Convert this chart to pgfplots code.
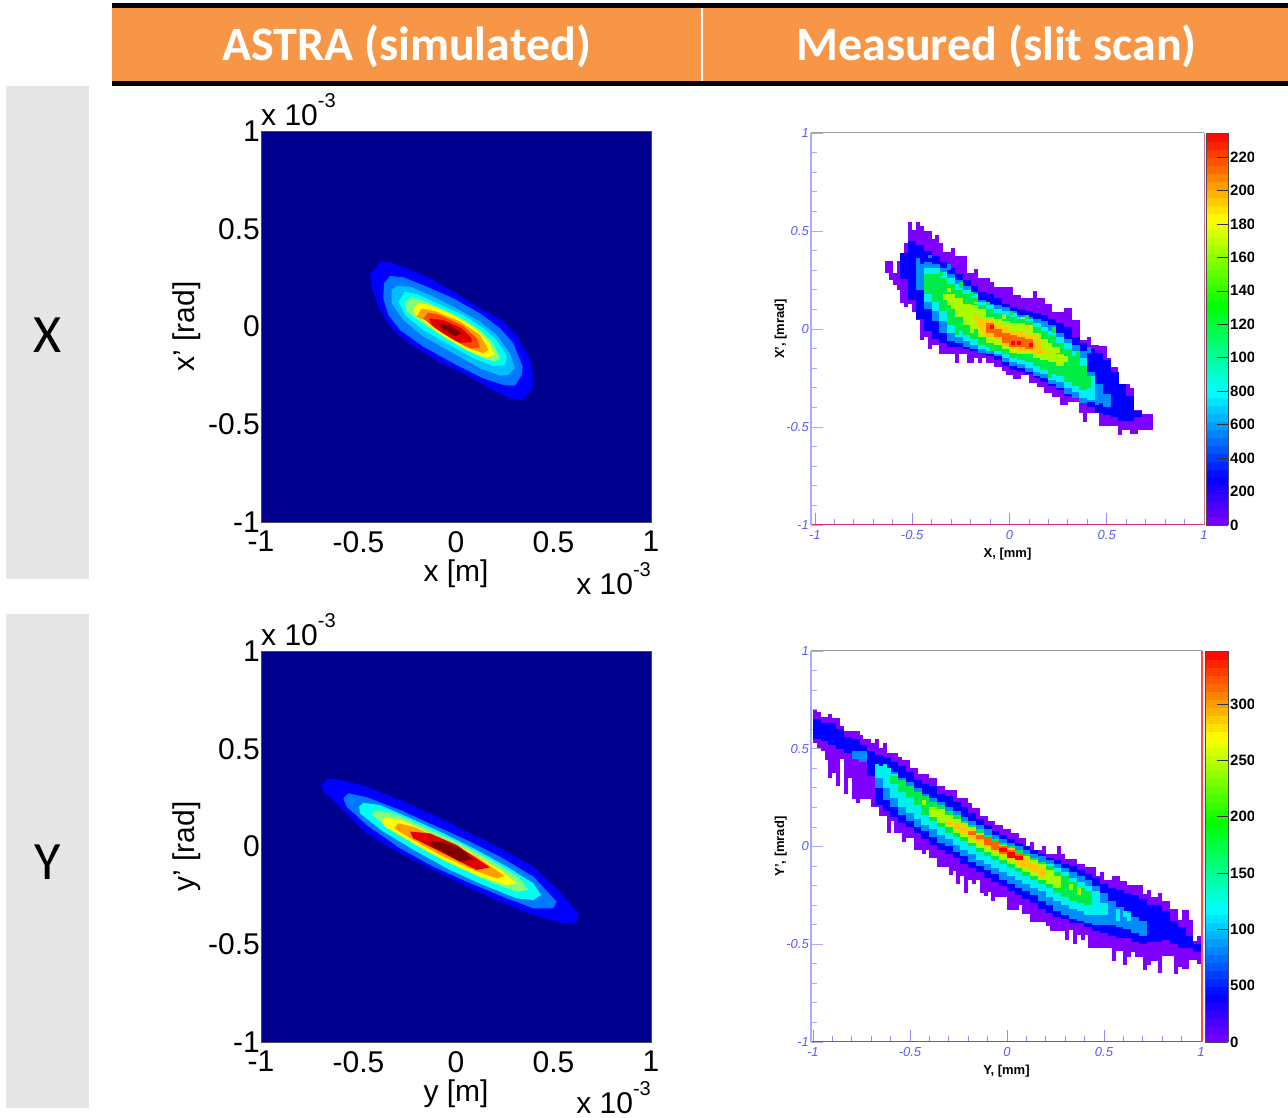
\documentclass[border=0pt]{standalone}
\usepackage{fontspec}
\setmainfont{Liberation Sans}
\newfontfamily\calib{Carlito}
\usepackage{pgfplots}
\usepackage{pgfplotstable}
\pgfplotsset{compat=1.18}
\definecolor{hdr}{RGB}{247,150,70}
\definecolor{gbox}{RGB}{230,230,230}
\definecolor{navy}{RGB}{0,0,143}
\definecolor{ja}{RGB}{0,0,255}
\definecolor{jb}{RGB}{0,120,255}
\definecolor{jc}{RGB}{0,190,255}
\definecolor{jd}{RGB}{0,255,240}
\definecolor{je}{RGB}{130,255,125}
\definecolor{jf}{RGB}{255,255,0}
\definecolor{jg}{RGB}{255,160,0}
\definecolor{jh}{RGB}{255,70,0}
\definecolor{ji}{RGB}{225,0,0}
\definecolor{jj}{RGB}{128,0,0}
\definecolor{ma}{RGB}{128,0,255}
\definecolor{mb}{RGB}{0,0,255}
\definecolor{mc}{RGB}{0,140,255}
\definecolor{md}{RGB}{0,240,240}
\definecolor{me}{RGB}{0,235,70}
\definecolor{mf}{RGB}{170,250,0}
\definecolor{mg}{RGB}{255,200,0}
\definecolor{mh}{RGB}{255,100,0}
\definecolor{mi}{RGB}{255,0,0}
\definecolor{tickblue}{RGB}{90,90,255}
\definecolor{yline}{RGB}{170,170,255}
\definecolor{xline}{RGB}{225,40,100}

% ---------- measured X, columns of the distribution: x, lower edge, upper edge
\pgfplotstableread[row sep=\\]{x lo hi\\
-0.63 0.288 0.349\\ -0.61 0.25 0.349\\ -0.59 0.225 0.288\\ -0.57 0.20 0.349\\ -0.55 0.131 0.327\\ -0.53 0.11 0.438\\
-0.51 0.13 0.545\\ -0.49 0.088 0.506\\ -0.47 0.046 0.545\\ -0.45 -0.056 0.523\\ -0.43 -0.039 0.502\\ -0.41 -0.104 0.502\\
-0.39 -0.082 0.458\\ -0.37 -0.082 0.478\\ -0.35 -0.128 0.438\\ -0.33 -0.128 0.395\\ -0.31 -0.128 0.395\\ -0.29 -0.128 0.415\\
-0.27 -0.172 0.37\\ -0.25 -0.128 0.37\\ -0.23 -0.128 0.37\\ -0.21 -0.172 0.288\\ -0.19 -0.172 0.288\\ -0.17 -0.15 0.305\\
-0.15 -0.172 0.259\\ -0.13 -0.15 0.259\\ -0.11 -0.172 0.259\\ -0.09 -0.172 0.242\\ -0.07 -0.193 0.216\\ -0.05 -0.193 0.216\\
-0.03 -0.213 0.216\\ -0.01 -0.235 0.216\\ 0.01 -0.235 0.216\\ 0.03 -0.256 0.174\\ 0.05 -0.256 0.174\\ 0.07 -0.235 0.157\\
0.09 -0.235 0.157\\ 0.11 -0.278 0.157\\ 0.13 -0.278 0.196\\ 0.15 -0.295 0.157\\ 0.17 -0.295 0.157\\ 0.19 -0.326 0.128\\
0.21 -0.326 0.128\\ 0.23 -0.346 0.088\\ 0.25 -0.346 0.088\\ 0.27 -0.389 0.088\\ 0.29 -0.389 0.109\\ 0.31 -0.372 0.109\\
0.33 -0.372 0.046\\ 0.35 -0.372 0.046\\ 0.37 -0.431 -0.056\\ 0.39 -0.474 -0.056\\ 0.41 -0.431 -0.043\\ 0.43 -0.431 -0.082\\
0.45 -0.431 -0.082\\ 0.47 -0.496 -0.087\\ 0.49 -0.496 -0.087\\ 0.51 -0.496 -0.15\\ 0.53 -0.496 -0.196\\ 0.55 -0.496 -0.196\\
0.57 -0.542 -0.281\\ 0.59 -0.516 -0.281\\ 0.61 -0.516 -0.281\\ 0.63 -0.537 -0.303\\ 0.65 -0.537 -0.414\\ 0.67 -0.516 -0.414\\
0.69 -0.516 -0.435\\ 0.71 -0.516 -0.435\\ 0.73 -0.516 -0.435\\
}\xa
\pgfplotstableread[row sep=\\]{x lo hi\\
-0.54 0.255 0.39\\ -0.50 0.15 0.45\\ -0.46 0.05 0.43\\ -0.42 -0.01 0.40\\ -0.38 -0.05 0.37\\ -0.34 -0.07 0.34\\ -0.30 -0.09 0.31\\
-0.26 -0.09 0.28\\ -0.22 -0.10 0.25\\ -0.18 -0.11 0.22\\ -0.14 -0.12 0.19\\ -0.10 -0.14 0.18\\ -0.06 -0.16 0.16\\ -0.02 -0.19 0.13\\
0.02 -0.21 0.11\\ 0.06 -0.22 0.10\\ 0.10 -0.23 0.09\\ 0.14 -0.25 0.08\\ 0.18 -0.27 0.07\\ 0.22 -0.29 0.05\\ 0.26 -0.31 0.03\\
0.30 -0.34 0.01\\ 0.34 -0.35 -0.04\\ 0.38 -0.37 -0.07\\ 0.42 -0.40 -0.10\\ 0.46 -0.43 -0.12\\ 0.50 -0.44 -0.16\\ 0.54 -0.45 -0.22\\
0.58 -0.47 -0.28\\ 0.62 -0.47 -0.34\\ 0.66 -0.45 -0.42\\
}\xb
\pgfplotstableread[row sep=\\]{x lo hi\\
-0.46 0.20 0.33\\ -0.42 0.10 0.34\\ -0.38 0.04 0.33\\ -0.34 -0.02 0.31\\ -0.30 -0.06 0.28\\ -0.26 -0.07 0.25\\ -0.22 -0.09 0.22\\
-0.18 -0.10 0.19\\ -0.14 -0.12 0.15\\ -0.10 -0.13 0.13\\ -0.06 -0.14 0.12\\ -0.02 -0.17 0.11\\ 0.02 -0.19 0.09\\ 0.06 -0.20 0.07\\
0.10 -0.22 0.06\\ 0.14 -0.24 0.05\\ 0.18 -0.25 0.04\\ 0.22 -0.28 0.02\\ 0.26 -0.30 -0.02\\ 0.30 -0.33 -0.05\\ 0.34 -0.35 -0.08\\
0.38 -0.38 -0.11\\ 0.42 -0.37 -0.22\\ 0.46 -0.38 -0.28\\ 0.50 -0.40 -0.33\\
}\xc
\pgfplotstableread[row sep=\\]{x lo hi\\
-0.42 0.14 0.31\\ -0.38 0.09 0.31\\ -0.34 0.04 0.29\\ -0.30 -0.02 0.26\\ -0.26 -0.04 0.23\\ -0.22 -0.06 0.20\\ -0.18 -0.08 0.18\\ -0.14 -0.10 0.14\\
-0.10 -0.11 0.12\\ -0.06 -0.13 0.10\\ -0.02 -0.15 0.09\\ 0.02 -0.17 0.08\\ 0.06 -0.18 0.06\\ 0.10 -0.20 0.05\\ 0.14 -0.22 0.03\\ 0.18 -0.23 0.01\\
0.22 -0.26 -0.01\\ 0.26 -0.27 -0.04\\ 0.30 -0.30 -0.07\\ 0.34 -0.32 -0.11\\ 0.38 -0.35 -0.15\\ 0.42 -0.36 -0.24\\
}\xcy
\pgfplotstableread[row sep=\\]{x lo hi\\
-0.42 0.18 0.28\\ -0.38 0.14 0.28\\ -0.34 0.09 0.26\\ -0.30 0.02 0.23\\ -0.26 -0.01 0.20\\ -0.22 -0.03 0.18\\ -0.18 -0.05 0.16\\
-0.14 -0.08 0.12\\ -0.10 -0.09 0.10\\ -0.06 -0.11 0.08\\ -0.02 -0.13 0.07\\ 0.02 -0.15 0.06\\ 0.06 -0.16 0.05\\ 0.10 -0.17 0.04\\
0.14 -0.19 0.01\\ 0.18 -0.21 -0.01\\ 0.22 -0.23 -0.03\\ 0.26 -0.24 -0.07\\ 0.30 -0.27 -0.10\\ 0.34 -0.29 -0.14\\ 0.38 -0.31 -0.19\\
}\xd
\pgfplotstableread[row sep=\\]{x lo hi\\
-0.30 0.12 0.18\\ -0.26 0.06 0.16\\ -0.22 0.02 0.13\\ -0.18 0.00 0.12\\ -0.14 -0.04 0.10\\ -0.10 -0.07 0.06\\ -0.06 -0.08 0.05\\
-0.02 -0.10 0.04\\ 0.02 -0.12 0.03\\ 0.06 -0.13 0.03\\ 0.10 -0.13 0.02\\ 0.14 -0.15 -0.02\\ 0.18 -0.16 -0.05\\ 0.22 -0.17 -0.09\\ 0.26 -0.19 -0.13\\
}\xe
\pgfplotstableread[row sep=\\]{x lo hi\\
-0.14 0.00 0.05\\ -0.10 -0.04 0.05\\ -0.06 -0.05 0.03\\ -0.02 -0.08 0.01\\ 0.02 -0.10 -0.01\\ 0.06 -0.11 -0.01\\ 0.10 -0.11 -0.03\\ 0.14 -0.13 -0.05\\
}\xf
\pgfplotstableread[row sep=\\]{x lo hi\\
-0.10 -0.02 0.03\\ -0.06 -0.04 0.00\\ -0.02 -0.07 -0.02\\ 0.02 -0.09 -0.03\\ 0.06 -0.09 -0.04\\ 0.10 -0.10 -0.05\\
}\xg
\pgfplotstableread[row sep=\\]{x lo hi\\
0.02 -0.08 -0.06\\ -0.09 0.00 0.02\\ 0.05 -0.08 -0.06\\ 0.11 -0.09 -0.07\\
}\xh
% isolated cells of the measured X map
\pgfplotstableread[row sep=\\]{x lo hi\\
-0.47 0.30 0.36\\ -0.41 0.36 0.38\\ -0.31 0.30 0.33\\ 0.45 -0.39 -0.30\\ 0.49 -0.40 -0.33\\ 0.41 -0.12 -0.09\\
}\xsc
\pgfplotstableread[row sep=\\]{x lo hi\\
-0.41 0.25 0.27\\ -0.35 0.27 0.29\\ -0.25 0.21 0.24\\ -0.19 0.17 0.19\\ -0.11 0.12 0.14\\ -0.27 -0.03 0.00\\ 0.01 0.07 0.09\\ 0.09 0.05 0.07\\
0.23 -0.02 0.01\\ 0.35 -0.14 -0.11\\ 0.41 -0.30 -0.24\\ 0.21 -0.25 -0.23\\ -0.09 -0.11 -0.09\\
}\xse
\pgfplotstableread[row sep=\\]{x lo hi\\
-0.33 0.15 0.18\\ -0.29 0.10 0.13\\ -0.31 0.19 0.21\\ -0.21 0.05 0.08\\ -0.19 -0.02 0.00\\ -0.17 0.13 0.14\\ 0.07 0.05 0.06\\ 0.21 -0.10 -0.07\\
0.25 -0.12 -0.09\\ 0.29 -0.17 -0.14\\ -0.03 0.05 0.07\\
}\xsf
\pgfplotstableread[row sep=\\]{x lo hi\\
-0.13 -0.03 0.00\\ -0.17 0.04 0.07\\ 0.17 -0.13 -0.10\\ 0.21 -0.13 -0.11\\ 0.09 0.00 0.02\\ 0.13 -0.04 -0.02\\
}\xsg

% ---------- measured Y
\pgfplotstableread[row sep=\\]{x lo hi\\
-0.99 0.53 0.70\\ -0.97 0.506 0.69\\ -0.95 0.49 0.66\\ -0.93 0.44 0.66\\ -0.91 0.35 0.68\\ -0.89 0.375 0.655\\ -0.87 0.31 0.655\\
-0.85 0.45 0.614\\ -0.83 0.267 0.59\\ -0.81 0.35 0.59\\ -0.79 0.245 0.59\\ -0.77 0.224 0.59\\ -0.75 0.245 0.57\\ -0.73 0.245 0.55\\
-0.71 0.245 0.55\\ -0.69 0.204 0.53\\ -0.67 0.204 0.55\\ -0.65 0.156 0.506\\ -0.63 0.156 0.527\\ -0.61 0.07 0.48\\ -0.59 0.13 0.48\\
-0.57 0.07 0.48\\ -0.55 0.07 0.46\\ -0.53 0.024 0.44\\ -0.51 0.045 0.44\\ -0.49 0.045 0.40\\ -0.47 -0.02 0.40\\ -0.45 -0.02 0.37\\
-0.43 -0.04 0.37\\ -0.41 -0.02 0.37\\ -0.39 -0.058 0.35\\ -0.37 -0.058 0.35\\ -0.35 -0.104 0.31\\ -0.33 -0.104 0.31\\ -0.31 -0.104 0.287\\
-0.29 -0.147 0.287\\ -0.27 -0.126 0.287\\ -0.25 -0.19 0.246\\ -0.23 -0.152 0.246\\ -0.21 -0.237 0.246\\ -0.19 -0.17 0.22\\ -0.17 -0.19 0.198\\
-0.15 -0.17 0.198\\ -0.13 -0.237 0.156\\ -0.11 -0.255 0.156\\ -0.09 -0.234 0.13\\ -0.07 -0.28 0.13\\ -0.05 -0.258 0.11\\ -0.03 -0.258 0.11\\
-0.01 -0.258 0.09\\ 0.01 -0.323 0.09\\ 0.03 -0.323 0.067\\ 0.05 -0.323 0.067\\ 0.07 -0.30 0.045\\ 0.09 -0.343 0.045\\ 0.11 -0.343 0.002\\
0.13 -0.386 0.022\\ 0.15 -0.386 -0.02\\ 0.17 -0.386 -0.02\\ 0.19 -0.386 0.002\\ 0.21 -0.408 -0.036\\ 0.23 -0.43 -0.036\\ 0.25 -0.43 -0.036\\
0.27 -0.43 0.002\\ 0.29 -0.43 -0.04\\ 0.31 -0.477 -0.063\\ 0.33 -0.426 -0.063\\ 0.35 -0.499 -0.063\\ 0.37 -0.451 -0.087\\ 0.39 -0.477 -0.087\\
0.41 -0.455 -0.106\\ 0.43 -0.52 -0.106\\ 0.45 -0.52 -0.106\\ 0.47 -0.52 -0.149\\ 0.49 -0.52 -0.13\\ 0.51 -0.52 -0.169\\ 0.53 -0.52 -0.169\\
0.55 -0.588 -0.152\\ 0.57 -0.537 -0.152\\ 0.59 -0.537 -0.178\\ 0.61 -0.605 -0.178\\ 0.63 -0.566 -0.196\\ 0.65 -0.542 -0.196\\ 0.67 -0.566 -0.196\\
0.69 -0.566 -0.196\\ 0.71 -0.63 -0.241\\ 0.73 -0.605 -0.22\\ 0.75 -0.588 -0.258\\ 0.77 -0.588 -0.258\\ 0.79 -0.648 -0.237\\ 0.81 -0.562 -0.28\\
0.83 -0.562 -0.28\\ 0.85 -0.562 -0.32\\ 0.87 -0.651 -0.32\\ 0.89 -0.614 -0.374\\ 0.91 -0.627 -0.326\\ 0.93 -0.627 -0.326\\ 0.95 -0.58 -0.374\\
0.97 -0.58 -0.485\\ 0.99 -0.60 -0.456\\
}\ya
\pgfplotstableread[row sep=\\]{x lo hi\\
-0.98 0.55 0.65\\ -0.94 0.54 0.63\\ -0.90 0.52 0.63\\ -0.86 0.50 0.60\\ -0.82 0.48 0.56\\ -0.78 0.46 0.55\\ -0.74 0.44 0.52\\ -0.70 0.36 0.49\\
-0.66 0.21 0.47\\ -0.62 0.18 0.46\\ -0.58 0.15 0.43\\ -0.54 0.12 0.41\\ -0.50 0.10 0.38\\ -0.46 0.07 0.34\\ -0.42 0.04 0.32\\ -0.38 0.01 0.31\\
-0.34 -0.02 0.27\\ -0.30 -0.04 0.26\\ -0.26 -0.06 0.23\\ -0.22 -0.09 0.20\\ -0.18 -0.11 0.17\\ -0.14 -0.13 0.14\\ -0.10 -0.16 0.11\\ -0.06 -0.18 0.08\\
-0.02 -0.20 0.06\\ 0.02 -0.23 0.04\\ 0.06 -0.25 0.02\\ 0.10 -0.27 0.00\\ 0.14 -0.29 -0.02\\ 0.18 -0.32 -0.04\\ 0.22 -0.34 -0.06\\ 0.26 -0.36 -0.07\\
0.30 -0.37 -0.09\\ 0.34 -0.39 -0.10\\ 0.38 -0.39 -0.12\\ 0.42 -0.41 -0.14\\ 0.46 -0.43 -0.16\\ 0.50 -0.44 -0.19\\ 0.54 -0.46 -0.21\\ 0.58 -0.47 -0.22\\
0.62 -0.47 -0.24\\ 0.66 -0.49 -0.25\\ 0.70 -0.50 -0.27\\ 0.74 -0.49 -0.30\\ 0.78 -0.49 -0.30\\ 0.82 -0.48 -0.33\\ 0.86 -0.50 -0.38\\ 0.90 -0.52 -0.41\\
0.94 -0.52 -0.46\\ 0.98 -0.54 -0.50\\
}\yb
\pgfplotstableread[row sep=\\]{x lo hi\\
-0.78 0.45 0.49\\ -0.74 0.43 0.49\\ -0.66 0.30 0.41\\ -0.62 0.24 0.40\\ -0.58 0.20 0.38\\ -0.54 0.16 0.35\\ -0.50 0.13 0.33\\ -0.46 0.10 0.30\\
-0.42 0.08 0.27\\ -0.38 0.05 0.25\\ -0.34 0.02 0.23\\ -0.30 0.00 0.20\\ -0.26 -0.03 0.18\\ -0.22 -0.05 0.15\\ -0.18 -0.08 0.13\\ -0.14 -0.10 0.11\\
-0.10 -0.12 0.09\\ -0.06 -0.14 0.06\\ -0.02 -0.17 0.04\\ 0.02 -0.19 0.02\\ 0.06 -0.21 0.00\\ 0.10 -0.23 -0.02\\ 0.14 -0.25 -0.04\\ 0.18 -0.28 -0.05\\
0.22 -0.30 -0.07\\ 0.26 -0.33 -0.09\\ 0.30 -0.35 -0.11\\ 0.34 -0.37 -0.13\\ 0.38 -0.38 -0.15\\ 0.42 -0.39 -0.17\\ 0.46 -0.40 -0.20\\ 0.50 -0.40 -0.24\\
0.54 -0.40 -0.28\\ 0.58 -0.41 -0.31\\ 0.62 -0.42 -0.33\\ 0.66 -0.44 -0.36\\ 0.70 -0.46 -0.38\\
}\yc
\pgfplotstableread[row sep=\\]{x lo hi\\
-0.66 0.35 0.41\\ -0.62 0.30 0.40\\ -0.58 0.25 0.37\\ -0.54 0.20 0.34\\ -0.50 0.17 0.30\\ -0.46 0.14 0.27\\ -0.42 0.11 0.25\\ -0.38 0.09 0.22\\
-0.34 0.06 0.20\\ -0.30 0.04 0.17\\ -0.26 0.01 0.15\\ -0.22 -0.02 0.13\\ -0.18 -0.04 0.11\\ -0.14 -0.07 0.09\\ -0.10 -0.09 0.06\\ -0.06 -0.11 0.04\\
-0.02 -0.13 0.02\\ 0.02 -0.15 0.00\\ 0.06 -0.17 -0.02\\ 0.10 -0.19 -0.04\\ 0.14 -0.21 -0.06\\ 0.18 -0.23 -0.08\\ 0.22 -0.26 -0.09\\ 0.26 -0.28 -0.11\\
0.30 -0.30 -0.13\\ 0.34 -0.32 -0.16\\ 0.38 -0.33 -0.18\\ 0.42 -0.35 -0.20\\ 0.46 -0.35 -0.23\\ 0.50 -0.35 -0.29\\
}\yd
\pgfplotstableread[row sep=\\]{x lo hi\\
-0.58 0.32 0.36\\ -0.54 0.28 0.34\\ -0.50 0.25 0.31\\ -0.46 0.21 0.28\\ -0.42 0.16 0.26\\ -0.38 0.13 0.23\\ -0.34 0.10 0.21\\ -0.30 0.07 0.18\\
-0.26 0.05 0.16\\ -0.22 0.03 0.13\\ -0.18 0.00 0.11\\ -0.14 -0.03 0.09\\ -0.10 -0.05 0.06\\ -0.06 -0.07 0.04\\ -0.02 -0.09 0.02\\ 0.02 -0.11 0.00\\
0.06 -0.13 -0.02\\ 0.10 -0.15 -0.04\\ 0.14 -0.17 -0.06\\ 0.18 -0.19 -0.08\\ 0.22 -0.21 -0.10\\ 0.26 -0.24 -0.13\\ 0.30 -0.26 -0.15\\ 0.34 -0.28 -0.18\\
0.38 -0.29 -0.21\\ 0.42 -0.30 -0.23\\
}\ye
\pgfplotstableread[row sep=\\]{x lo hi\\
-0.38 0.15 0.20\\ -0.34 0.12 0.19\\ -0.30 0.10 0.16\\ -0.26 0.07 0.14\\ -0.22 0.05 0.12\\ -0.18 0.02 0.10\\ -0.14 -0.01 0.07\\ -0.10 -0.03 0.05\\
-0.06 -0.05 0.03\\ -0.02 -0.07 0.01\\ 0.02 -0.09 -0.01\\ 0.06 -0.11 -0.04\\ 0.10 -0.13 -0.05\\ 0.14 -0.15 -0.07\\ 0.18 -0.17 -0.09\\ 0.22 -0.19 -0.12\\ 0.26 -0.21 -0.15\\
}\yf
\pgfplotstableread[row sep=\\]{x lo hi\\
-0.30 0.11 0.13\\ -0.26 0.09 0.12\\ -0.22 0.07 0.11\\ -0.18 0.04 0.09\\ -0.14 0.02 0.07\\ -0.10 -0.01 0.04\\ -0.06 -0.03 0.03\\ -0.02 -0.05 0.01\\
0.02 -0.07 -0.01\\ 0.06 -0.10 -0.04\\ 0.10 -0.11 -0.06\\ 0.14 -0.13 -0.09\\ 0.18 -0.16 -0.11\\
}\yg
\pgfplotstableread[row sep=\\]{x lo hi\\
-0.18 0.06 0.08\\ -0.14 0.04 0.06\\ -0.10 0.01 0.05\\ -0.06 -0.02 0.03\\ -0.02 -0.04 0.00\\ 0.02 -0.06 -0.02\\ 0.06 -0.07 -0.04\\
}\yh
\pgfplotstableread[row sep=\\]{x lo hi\\
-0.02 -0.03 -0.01\\ 0.02 -0.06 -0.03\\ 0.06 -0.07 -0.05\\
}\yi
\pgfplotstableread[row sep=\\]{x lo hi\\
-0.67 0.37 0.42\\ -0.63 0.40 0.42\\ 0.57 -0.38 -0.32\\ 0.61 -0.36 -0.33\\ 0.63 -0.38 -0.34\\
}\ysd
\pgfplotstableread[row sep=\\]{x lo hi\\
-0.43 0.21 0.24\\ 0.33 -0.22 -0.19\\ 0.37 -0.25 -0.21\\
}\ysf

\newcommand\strips[3]{\addplot[forget plot, draw=none, mark=none,
  error bars/.cd, y dir=plus, y explicit, error mark=none,
  error bar style={line width=#2, draw=#1, solid}]
  table[x=x, y=lo, y error expr=\thisrow{hi}-\thisrow{lo}] {#3};}

\pgfplotsset{
  astra/.style={
    scale only axis, width=390pt, height=391pt,
    xmin=-1, xmax=1, ymin=-1, ymax=1,
    axis background/.style={fill=navy},
    axis line style={line width=0.5pt, draw=black!70},
    xtick={-1,-0.5,0,0.5,1}, ytick={-1,-0.5,0,0.5,1},
    xticklabels={-1,-0.5,0,0.5,1}, yticklabels={-1,-0.5,0,0.5,1},
    tick style={draw=none},
    tick label style={font=\fontsize{30}{31}\selectfont, inner sep=1pt},
    xticklabel style={yshift=-8pt},
    /pgf/number format/assume math mode=true,
    label style={font=\fontsize{30}{31}\selectfont},
    xlabel style={yshift=-3pt},
    ylabel style={yshift=3pt},
  },
  measured/.style={
    scale only axis,
    ymin=-1, ymax=1,
    axis x line=bottom, axis y line=left,
    x axis line style={-, draw=xline, line width=1pt},
    y axis line style={-, draw=yline, line width=1.5pt},
    xtick={-1,-0.5,0,0.5,1}, ytick={-1,-0.5,0,0.5,1},
    xticklabels={-1,-0.5,0,0.5,1}, yticklabels={-1,-0.5,0,0.5,1},
    minor tick num=4, tick align=inside,
    major tick length=12pt, minor tick length=6pt,
    x tick style={draw=tickblue!70, line width=0.7pt},
    y tick style={draw=yline, line width=0.8pt},
    tick label style={font=\fontsize{13}{14}\selectfont\itshape, text=tickblue, inner sep=2pt},
    xticklabel style={yshift=-3pt},
    /pgf/number format/assume math mode=true,
    label style={font=\fontsize{13}{14}\selectfont\bfseries},
    xlabel style={yshift=-3pt}, ylabel style={yshift=-6pt},
    colormap={rootrain}{rgb255(0pt)=(128,0,255); rgb255(12pt)=(0,0,255); rgb255(34pt)=(0,255,255);
      rgb255(56pt)=(0,255,0); rgb255(78pt)=(255,255,0); rgb255(100pt)=(255,0,0)},
    colorbar sampled,
  },
  cbar/.style={
    samples=50,
    at={(parent axis.south east)}, anchor=south west,
    axis line style={line width=0.5pt, draw=black!70},
    tick pos=right, tick align=inside,
    major tick length=11pt,
    tick style={draw=black!80, line width=0.5pt},
    ticklabel style={font=\fontsize{15}{16}\selectfont\bfseries, inner sep=2pt},
    /pgf/number format/assume math mode=true,
    /pgf/number format/1000 sep={},
    scaled y ticks=false,
  },
}

\begin{document}
\begin{tikzpicture}[x=1pt,y=1pt]
\path[use as bounding box] (0,0) rectangle (1288,1118);
% header
\fill[hdr] (112,1037) rectangle (1288,1110);
\fill[black] (112,1110) rectangle (1288,1115);
\fill[black] (112,1032) rectangle (1288,1037);
\draw[white, line width=1.5pt] (702,1037) -- (702,1110);
\node[text=white, font=\calib\bfseries\fontsize{48}{50}\selectfont] at (406.5,1072) {ASTRA (simulated)};
\node[text=white, font=\calib\bfseries\fontsize{48}{50}\selectfont] at (996.5,1072) {Measured (slit scan)};
% side boxes
\fill[gbox] (6,539) rectangle (89,1032);
\fill[gbox] (6,10) rectangle (89,504);
\node[font=\calib\fontsize{54}{56}\selectfont] at (47.5,783) {X};
\node[font=\calib\fontsize{54}{56}\selectfont] at (47.5,256) {Y};

% ---------- ASTRA X
\begin{axis}[astra, at={(261pt,596pt)}, anchor=south west, xlabel={x [m]}, ylabel={x' [rad]}]
\addplot[fill=ja,draw=none] coordinates {(-0.390,0.332)(-0.347,0.332)(-0.253,0.298)(-0.133,0.246)(-0.014,0.178)(0.123,0.093)(0.243,0.025)(0.311,-0.052)(0.379,-0.163)(0.400,-0.274)(0.388,-0.325)(0.345,-0.376)(0.277,-0.367)(0.174,-0.316)(0.055,-0.248)(-0.082,-0.180)(-0.253,-0.078)(-0.339,-0.001)(-0.398,0.101)(-0.433,0.204)(-0.441,0.263)} -- cycle;
\addplot[fill=jb,draw=none] coordinates {(-0.339,0.258)(-0.270,0.252)(-0.151,0.204)(-0.014,0.144)(0.123,0.067)(0.226,-0.009)(0.294,-0.086)(0.342,-0.205)(0.337,-0.248)(0.302,-0.303)(0.243,-0.299)(0.140,-0.265)(0.003,-0.197)(-0.168,-0.103)(-0.287,-0.018)(-0.347,0.059)(-0.373,0.144)(-0.369,0.221)} -- cycle;
\addplot[fill=jc,draw=none] coordinates {(-0.304,0.207)(-0.236,0.204)(-0.133,0.161)(0.003,0.093)(0.123,0.025)(0.208,-0.043)(0.277,-0.137)(0.302,-0.214)(0.268,-0.248)(0.226,-0.251)(0.123,-0.214)(-0.014,-0.137)(-0.168,-0.052)(-0.270,0.033)(-0.330,0.119)(-0.330,0.187)} -- cycle;
\addplot[fill=jd,draw=none] coordinates {(-0.262,0.178)(-0.202,0.166)(-0.099,0.119)(0.037,0.059)(0.140,-0.009)(0.208,-0.069)(0.260,-0.154)(0.251,-0.197)(0.191,-0.202)(0.089,-0.163)(-0.031,-0.095)(-0.168,-0.018)(-0.262,0.059)(-0.296,0.127)} -- cycle;
\addplot[fill=je,draw=none] coordinates {(-0.236,0.149)(-0.185,0.139)(-0.099,0.101)(0.020,0.047)(0.123,-0.018)(0.191,-0.086)(0.226,-0.163)(0.200,-0.180)(0.140,-0.163)(0.037,-0.112)(-0.082,-0.043)(-0.185,0.025)(-0.253,0.076)(-0.262,0.119)} -- cycle;
\addplot[fill=jf,draw=none] coordinates {(-0.193,0.119)(-0.133,0.110)(-0.014,0.059)(0.089,-0.004)(0.166,-0.078)(0.200,-0.146)(0.157,-0.159)(0.072,-0.129)(-0.048,-0.060)(-0.142,0.008)(-0.210,0.064)(-0.219,0.093)} -- cycle;
\addplot[fill=jg,draw=none] coordinates {(-0.176,0.093)(-0.099,0.076)(0.020,0.025)(0.123,-0.043)(0.166,-0.120)(0.140,-0.137)(0.055,-0.107)(-0.048,-0.043)(-0.142,0.025)(-0.202,0.050)} -- cycle;
\addplot[fill=jh,draw=none] coordinates {(-0.142,0.071)(-0.082,0.059)(0.037,0.003)(0.106,-0.060)(0.123,-0.107)(0.072,-0.112)(-0.014,-0.069)(-0.108,-0.009)(-0.168,0.042)} -- cycle;
\addplot[fill=ji,draw=none] coordinates {(-0.137,0.042)(-0.065,0.033)(0.029,-0.009)(0.080,-0.060)(0.080,-0.081)(0.020,-0.083)(-0.065,-0.035)(-0.125,0.008)} -- cycle;
\addplot[fill=jj,draw=none] coordinates {(-0.091,0.013)(-0.031,0.008)(0.029,-0.035)(-0.005,-0.049)(-0.057,-0.021)} -- cycle;
\end{axis}

% ---------- ASTRA Y
\begin{axis}[astra, at={(261pt,76pt)}, anchor=south west, xlabel={y [m]}, ylabel={y' [rad]}]
\addplot[fill=ja,draw=none] coordinates {(-0.655,0.349)(-0.578,0.337)(-0.458,0.306)(-0.287,0.238)(-0.116,0.161)(0.055,0.076)(0.226,-0.009)(0.397,-0.103)(0.533,-0.231)(0.627,-0.345)(0.615,-0.393)(0.550,-0.393)(0.397,-0.350)(0.226,-0.282)(0.055,-0.205)(-0.116,-0.120)(-0.287,-0.035)(-0.458,0.067)(-0.612,0.221)(-0.680,0.281)(-0.689,0.315)} -- cycle;
\addplot[fill=jb,draw=none] coordinates {(-0.552,0.272)(-0.458,0.252)(-0.287,0.187)(-0.116,0.110)(0.055,0.033)(0.226,-0.052)(0.397,-0.154)(0.516,-0.282)(0.499,-0.316)(0.397,-0.316)(0.260,-0.265)(0.055,-0.180)(-0.116,-0.103)(-0.287,-0.009)(-0.458,0.110)(-0.561,0.204)(-0.578,0.246)} -- cycle;
\addplot[fill=jd,draw=none] coordinates {(-0.475,0.224)(-0.390,0.212)(-0.253,0.153)(-0.082,0.076)(0.089,-0.009)(0.260,-0.103)(0.397,-0.188)(0.436,-0.248)(0.397,-0.274)(0.311,-0.265)(0.140,-0.197)(-0.031,-0.120)(-0.202,-0.026)(-0.373,0.076)(-0.492,0.170)(-0.497,0.204)} -- cycle;
\addplot[fill=je,draw=none] coordinates {(-0.415,0.187)(-0.321,0.170)(-0.150,0.093)(0.021,0.016)(0.191,-0.078)(0.328,-0.163)(0.371,-0.222)(0.311,-0.231)(0.191,-0.188)(0.021,-0.112)(-0.150,-0.026)(-0.304,0.067)(-0.432,0.161)} -- cycle;
\addplot[fill=jf,draw=none] coordinates {(-0.364,0.148)(-0.270,0.132)(-0.116,0.059)(0.055,-0.018)(0.226,-0.120)(0.311,-0.188)(0.260,-0.197)(0.123,-0.154)(-0.065,-0.069)(-0.219,0.016)(-0.364,0.101)(-0.381,0.127)} -- cycle;
\addplot[fill=jg,draw=none] coordinates {(-0.296,0.119)(-0.219,0.101)(-0.065,0.033)(0.106,-0.052)(0.251,-0.151)(0.209,-0.163)(0.089,-0.120)(-0.082,-0.043)(-0.219,0.033)(-0.318,0.093)} -- cycle;
\addplot[fill=ji,draw=none] coordinates {(-0.236,0.076)(-0.133,0.067)(0.003,0.008)(0.174,-0.107)(0.106,-0.120)(-0.031,-0.052)(-0.150,0.008)(-0.219,0.042)} -- cycle;
\addplot[fill=jj,draw=none] coordinates {(-0.142,0.025)(-0.065,0.025)(0.021,-0.009)(0.089,-0.066)(0.021,-0.078)(-0.065,-0.026)(-0.116,-0.004)} -- cycle;
\end{axis}

% ---------- measured X
\begin{axis}[measured, at={(811pt,593pt)}, anchor=south west, width=393pt, height=392pt,
  xmin=-1.02, xmax=1, xlabel={X, [mm]}, ylabel={X', [mrad]},
  point meta min=0, point meta max=2343,
  colorbar style={cbar, xshift=-6.5pt, width=22pt, ytick={0,200,...,2200}}]
\strips{ma}{4pt}{\xa}
\strips{mb}{8pt}{\xb}
\strips{mc}{8pt}{\xc}
\strips{md}{8pt}{\xcy}
\strips{me}{8pt}{\xd}
\strips{mf}{8pt}{\xe}
\strips{mg}{8pt}{\xf}
\strips{mh}{8pt}{\xg}
\strips{mi}{4pt}{\xh}
\strips{mc}{4pt}{\xsc}
\strips{me}{4pt}{\xse}
\strips{mf}{4pt}{\xsf}
\strips{mg}{4pt}{\xsg}
\end{axis}
\draw[gray!80, line width=1pt] (811,985) -- (1204,985);
\draw[black!30!xline!60, line width=1pt] (1204,593) -- (1204,985);

% ---------- measured Y
\begin{axis}[measured, at={(811pt,76pt)}, anchor=south west, width=391pt, height=391pt,
  xmin=-1.01, xmax=1.005, xlabel={Y, [mm]}, ylabel={Y', [mrad]},
  point meta min=0, point meta max=3470,
  colorbar style={cbar, xshift=-5.5pt, width=23pt, ytick={0,500,...,3000}}]
\strips{ma}{4pt}{\ya}
\strips{mb}{8pt}{\yb}
\strips{mc}{8pt}{\yc}
\strips{md}{8pt}{\yd}
\strips{me}{8pt}{\ye}
\strips{mf}{8pt}{\yf}
\strips{mg}{8pt}{\yg}
\strips{mh}{8pt}{\yh}
\strips{mi}{8pt}{\yi}
\strips{md}{4pt}{\ysd}
\strips{mf}{4pt}{\ysf}
\end{axis}
\draw[gray!80, line width=1pt] (811,467) -- (1202,467);
\draw[red!70!white, line width=1.2pt] (1202,76) -- (1202,467);

% x 10^-3 markers
\newcommand\tenm{x 10\raisebox{0.6em}{\fontsize{20}{20}\selectfont -3}}
\node[anchor=base west, inner sep=0pt, font=\fontsize{30}{31}\selectfont] at (261,992) {\tenm};
\node[anchor=base east, inner sep=0pt, font=\fontsize{30}{31}\selectfont] at (651,523) {\tenm};
\node[anchor=base west, inner sep=0pt, font=\fontsize{30}{31}\selectfont] at (261,472) {\tenm};
\node[anchor=base east, inner sep=0pt, font=\fontsize{30}{31}\selectfont] at (651,4) {\tenm};
% the right edge of the picture cuts the colour-bar labels
\fill[white] (1254,0) rectangle (1288,1030);
\end{tikzpicture}
\end{document}
